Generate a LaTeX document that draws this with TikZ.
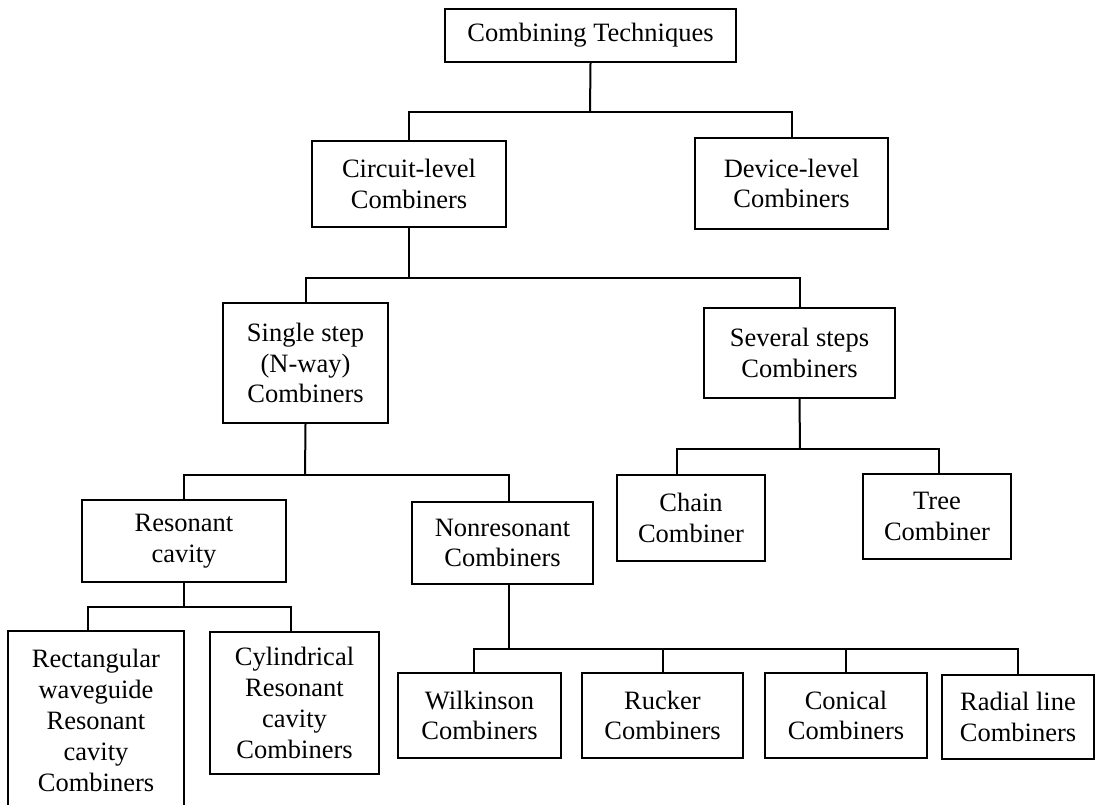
\documentclass[tikz,border=0pt]{standalone}
\usepackage{fontspec}
\setmainfont{Liberation Serif}
\begin{document}
\begin{tikzpicture}[x=0.5pt,y=-0.5pt,
  box/.style={draw,line width=1.1pt,rectangle,align=center,inner sep=0pt,
    font=\fontsize{13.25pt}{15.4pt}\selectfont},
  conn/.style={line width=1pt}]
\useasboundingbox (0,0) rectangle (1096,804);
\clip (0,0) rectangle (1096,804);
% boxes
\node[box,minimum width=145.5pt,minimum height=26.5pt] (comb) at (590.5,35.5) {Combining Techniques};
\node[box,minimum width=97pt,minimum height=43pt] (circ) at (409,184) {Circuit-level\\Combiners};
\node[box,minimum width=96.5pt,minimum height=45.5pt] (dev) at (791.5,183.5) {Device-level\\Combiners};
\node[box,minimum width=82.5pt,minimum height=60pt] (single) at (305.5,363) {Single step\\(N-way)\\Combiners};
\node[box,minimum width=95.5pt,minimum height=45pt] (several) at (799.5,353) {Several steps\\Combiners};
\node[box,minimum width=102pt,minimum height=41pt] (reson) at (184,541) {Resonant\\cavity};
\node[box,minimum width=90.5pt,minimum height=41pt] (nonres) at (502.5,543) {Nonresonant\\Combiners};
\node[box,minimum width=74pt,minimum height=43pt] (chain) at (691,518) {Chain\\Combiner};
\node[box,minimum width=74pt,minimum height=42.5pt] (tree) at (937,516.5) {Tree\\Combiner};
\node[box,minimum width=88pt,minimum height=89.5pt] (rect) at (96,720.5) {Rectangular\\waveguide\\Resonant\\cavity\\Combiners};
\node[box,minimum width=84.5pt,minimum height=71pt] (cyl) at (294.5,703) {Cylindrical\\Resonant\\cavity\\Combiners};
\node[box,minimum width=81.5pt,minimum height=42.5pt] (wilk) at (479.5,715.5) {Wilkinson\\Combiners};
\node[box,minimum width=80.5pt,minimum height=42.5pt] (rucker) at (662.5,715.5) {Rucker\\Combiners};
\node[box,minimum width=81pt,minimum height=42.5pt] (conical) at (846,715.5) {Conical\\Combiners};
\node[box,minimum width=76pt,minimum height=42pt] (radial) at (1018,717) {Radial line\\Combiners};
% junctions
\coordinate (j1) at (590,112);
\coordinate (j2) at (409,278);
\coordinate (j3) at (305,475);
\coordinate (j4) at (800,449);
\coordinate (j5) at (184,607);
\coordinate (j6) at (509,649);
% connectors
\draw[conn] (comb.south) -- (j1);
\draw[conn] (circ.north) |- (j1) -| (dev.north);
\draw[conn] (circ.south) -- (j2);
\draw[conn] (single.north) |- (j2) -| (several.north);
\draw[conn] (single.south) -- (j3);
\draw[conn] (reson.north) |- (j3) -| ([xshift=3.25pt]nonres.north);
\draw[conn] (several.south) -- (j4);
\draw[conn] ([xshift=-7pt]chain.north) |- (j4) -| ([xshift=1pt]tree.north);
\draw[conn] (reson.south) -- (j5);
\draw[conn] ([xshift=-4pt]rect.north) |- (j5) -| ([xshift=-1.75pt]cyl.north);
\draw[conn] ([xshift=3.25pt]nonres.south) -- (j6);
\draw[conn] ([xshift=-2.75pt]wilk.north) |- (j6) -| (radial.north);
\draw[conn] (rucker.north) -- (rucker.north |- j6);
\draw[conn] (conical.north) -- (conical.north |- j6);
\end{tikzpicture}
\end{document}
